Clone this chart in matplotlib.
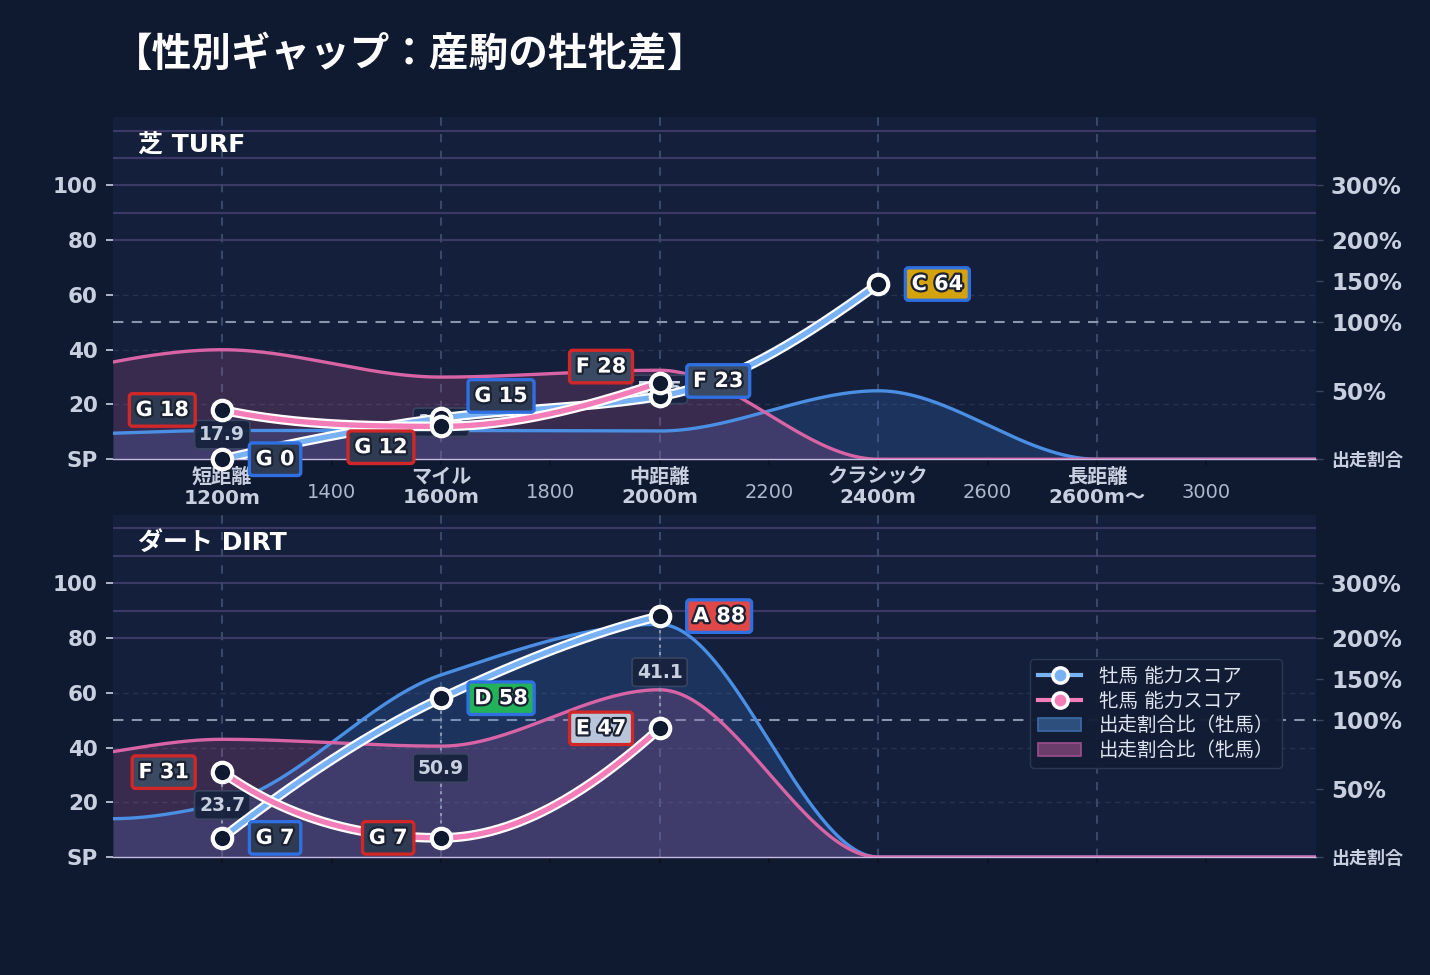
import numpy as np
import matplotlib
matplotlib.use('Agg')
import matplotlib.pyplot as plt
from matplotlib.lines import Line2D
from matplotlib.patches import Patch
import matplotlib.patheffects as pe

plt.rcParams['font.family'] = ['DejaVu Sans', 'Noto Sans CJK JP']

# ---------------- data ----------------
categories = ['短距離', 'マイル', '中距離', 'クラシック', '長距離']
category_dist = [1200, 1600, 2000, 2400, 2800]
category_dist_label = ['1200m', '1600m', '2000m', '2400m', '2600m〜']
minor_dist = [1400, 1800, 2200, 2600, 3000]

# starter share ratio (%) along the distance axis
ratio_dist = [1000, 1200, 1600, 2000, 2400, 2800, 3200]
turf_male_ratio = [19, 21, 21, 20.6, 50, 0, 0]
turf_female_ratio = [71, 80, 60, 65, 0, 0, 0]
dirt_male_ratio = [28, 39, 155, 225, 0, 0, 0]
dirt_female_ratio = [77, 86, 81, 137, 0, 0, 0]

# ability scores
turf_male_dist = [1200, 1600, 2000, 2400]
turf_male_score = [0, 15, 23, 64]
turf_male_grade = ['G', 'G', 'F', 'C']
turf_female_dist = [1200, 1600, 2000]
turf_female_score = [18, 12, 28]
turf_female_grade = ['G', 'G', 'F']
turf_gap_label = ['17.9', '31.9', '53.5']

dirt_male_dist = [1200, 1600, 2000]
dirt_male_score = [7, 58, 88]
dirt_male_grade = ['G', 'D', 'A']
dirt_female_dist = [1200, 1600, 2000]
dirt_female_score = [31, 7, 47]
dirt_female_grade = ['F', 'G', 'E']
dirt_gap_label = ['23.7', '50.9', '41.1']

score_ticks = [0, 20, 40, 60, 80, 100]
score_tick_labels = ['SP', '20', '40', '60', '80', '100']
ratio_tick_pct = [0, 50, 100, 150, 200, 300]
ratio_tick_labels = ['出走割合', '50%', '100%', '150%', '200%', '300%']
ratio_tick_pos = [0, 25, 50, 65, 80, 100]   # piecewise ratio scale on score axis

# ---------------- style ----------------
FIG_BG = '#0f1930'
AX_BG = '#131f3b'
TXT = '#c8d0e0'
MALE_SCORE = '#78b2f5'
FEMALE_SCORE = '#f27db9'
MALE_RATIO = '#4a8fe3'
FEMALE_RATIO = '#d864a6'
GRADE_FACE = {'A': '#e04848', 'B': '#f08a30', 'C': '#d4a20a', 'D': '#22b35a',
              'E': '#b8c4d8', 'F': '#3b4a63', 'G': '#2e3b52'}
MALE_EDGE = '#2f6fe0'
FEMALE_EDGE = '#d02828'


def pchip(x, y, xs):
    x = np.asarray(x, float); y = np.asarray(y, float)
    h = np.diff(x); d = np.diff(y) / h
    n = len(x)
    m = np.zeros(n)
    for k in range(1, n - 1):
        if d[k - 1] * d[k] > 0:
            w1 = 2 * h[k] + h[k - 1]; w2 = h[k] + 2 * h[k - 1]
            m[k] = (w1 + w2) / (w1 / d[k - 1] + w2 / d[k])
    def endpoint(h0, h1, d0, d1):
        mm = ((2 * h0 + h1) * d0 - h0 * d1) / (h0 + h1)
        if np.sign(mm) != np.sign(d0):
            mm = 0.0
        elif np.sign(d0) != np.sign(d1) and abs(mm) > abs(3 * d0):
            mm = 3 * d0
        return mm
    if n > 2:
        m[0] = endpoint(h[0], h[1], d[0], d[1])
        m[-1] = endpoint(h[-1], h[-2], d[-1], d[-2])
    else:
        m[:] = d[0]
    xs = np.asarray(xs, float)
    idx = np.clip(np.searchsorted(x, xs) - 1, 0, n - 2)
    t = (xs - x[idx]) / h[idx]
    h00 = 2 * t**3 - 3 * t**2 + 1; h10 = t**3 - 2 * t**2 + t
    h01 = -2 * t**3 + 3 * t**2; h11 = t**3 - t**2
    return h00 * y[idx] + h10 * h[idx] * m[idx] + h01 * y[idx + 1] + h11 * h[idx] * m[idx + 1]


def ratio_to_pos(p):
    return np.interp(p, ratio_tick_pct, ratio_tick_pos)


def draw_panel(ax, title, male_ratio, female_ratio, mdist, mscore, mgrade,
               fdist, fscore, fgrade, gap_labels, mnudge, fnudge, show_xlabels):
    ax.set_facecolor(AX_BG)
    ax.set_xlim(1000, 3200)
    ax.set_ylim(0, 125)
    for s in ['top', 'left', 'right']:
        ax.spines[s].set_visible(False)
    ax.spines['bottom'].set_color('#c4bce0')
    ax.spines['bottom'].set_linewidth(1.0)

    # grid
    for xv in category_dist:
        ax.axvline(xv, color='#3a4868', lw=1.5, ls=(0, (4, 4)), zorder=0.5)
    for yv in [20, 40, 60]:
        ax.axhline(yv, color='#27324d', lw=1.0, ls=(0, (4, 3)), zorder=0.4)
    for yv in [80, 90, 100, 110, 120]:
        ax.axhline(yv, color='#3b3a66', lw=1.6, zorder=0.4)
    ax.axhline(50, color='#8a94aa', lw=1.5, ls=(0, (5, 4)), zorder=0.6)

    # ratio fills
    xs = np.linspace(1000, 3200, 600)
    mr = np.maximum(pchip(ratio_dist, ratio_to_pos(male_ratio), xs), 0)
    fr = np.maximum(pchip(ratio_dist, ratio_to_pos(female_ratio), xs), 0)
    ax.fill_between(xs, 0, mr, color='#3d7bd9', alpha=0.22, lw=0, zorder=1)
    ax.fill_between(xs, 0, fr, color='#d0609f', alpha=0.20, lw=0, zorder=1.1)
    ax.plot(xs, mr, color=MALE_RATIO, lw=2.4, zorder=2)
    ax.plot(xs, fr, color=FEMALE_RATIO, lw=2.4, zorder=2.1)

    # gap connectors and gap labels
    for i, lab in enumerate(gap_labels):
        xv = fdist[i]
        a, b = mscore[i], fscore[i]
        ax.plot([xv, xv], [min(a, b), max(a, b)], color='#8a96b0', lw=1.5,
                ls=(0, (1.5, 2)), zorder=2.5)
        ax.text(xv, (a + b) / 2, lab, ha='center', va='center', fontsize=13.5,
                fontweight='bold', color=TXT, zorder=3,
                bbox=dict(boxstyle='round,pad=0.25,rounding_size=0.2',
                          fc='#18233f', ec='#3a4662', lw=1.2, alpha=0.95))

    # score lines
    for dist, score, col, z in [(mdist, mscore, MALE_SCORE, 4), (fdist, fscore, FEMALE_SCORE, 4.2)]:
        xx = np.linspace(dist[0], dist[-1], 300)
        yy = pchip(dist, score, xx)
        ax.plot(xx, yy, color='white', lw=7, solid_capstyle='round', zorder=z)
        ax.plot(xx, yy, color=col, lw=3.8, solid_capstyle='round', zorder=z + 0.05)
        ax.plot(dist, score, ls='none', marker='o', ms=14, mfc=FIG_BG, mec='white',
                mew=3, zorder=z + 0.5, clip_on=False)

    # grade labels
    for dist, score, grade, nudge, edge, sgn in [
            (mdist, mscore, mgrade, mnudge, MALE_EDGE, 1),
            (fdist, fscore, fgrade, fnudge, FEMALE_EDGE, -1)]:
        for xv, sv, g, dy in zip(dist, score, grade, nudge):
            ax.annotate(f'{g} {sv}', (xv, sv), xytext=(sgn * 24, dy),
                        textcoords='offset points', ha='left' if sgn > 0 else 'right',
                        va='center', fontsize=15, fontweight='bold', color='white',
                        zorder=6, annotation_clip=False,
                        path_effects=[pe.withStroke(linewidth=3.2, foreground='#1b2233')],
                        bbox=dict(boxstyle='round,pad=0.3,rounding_size=0.15',
                                  fc=GRADE_FACE[g], ec=edge, lw=2.4))

    # axes ticks
    ax.set_yticks(score_ticks, score_tick_labels)
    ax.tick_params(axis='y', colors=TXT, labelsize=15.5, length=5, width=1.2, pad=6)
    for t in ax.get_yticklabels():
        t.set_fontweight('bold')
    ax.set_xticks(category_dist)
    ax.set_xticks(minor_dist, minor=True)
    ax.tick_params(axis='x', which='both', length=4, color='#0a1020', width=1.2)
    if show_xlabels:
        ax.set_xticklabels([f'{c}\n{d}' for c, d in zip(categories, category_dist_label)],
                           fontsize=14.5, fontweight='bold', color=TXT, linespacing=1.12)
        ax.set_xticklabels([str(v) for v in minor_dist], minor=True, fontsize=14,
                           color='#aeb8cc')
        ax.tick_params(axis='x', which='major', pad=2)
        ax.tick_params(axis='x', which='minor', pad=13)
    else:
        ax.set_xticklabels([])
        ax.set_xticklabels([], minor=True)

    ax2 = ax.twinx()
    ax2.set_ylim(ax.get_ylim())
    for s in ax2.spines.values():
        s.set_visible(False)
    ax2.set_yticks(ratio_tick_pos, ratio_tick_labels)
    ax2.tick_params(axis='y', colors=TXT, length=5, width=1, pad=6, color='#3a4560')
    for t in ax2.get_yticklabels():
        t.set_fontweight('bold')
        t.set_color(TXT)
        t.set_fontsize(13 if t.get_text() == '出走割合' else 16.5)

    ax.text(0.021, 0.918, title, transform=ax.transAxes, fontsize=18,
            fontweight='bold', color='white', va='center', ha='left', zorder=7)


fig = plt.figure(figsize=(14.3, 9.75), dpi=100, facecolor=FIG_BG)
ax_top = fig.add_axes([0.079, 0.529, 0.841, 0.351])
ax_bot = fig.add_axes([0.079, 0.121, 0.841, 0.351])

draw_panel(ax_top, '芝 TURF', turf_male_ratio, turf_female_ratio,
           turf_male_dist, turf_male_score, turf_male_grade,
           turf_female_dist, turf_female_score, turf_female_grade,
           turf_gap_label, [0, 16, 11, 0], [0, -15, 11.5], True)
draw_panel(ax_bot, 'ダート DIRT', dirt_male_ratio, dirt_female_ratio,
           dirt_male_dist, dirt_male_score, dirt_male_grade,
           dirt_female_dist, dirt_female_score, dirt_female_grade,
           dirt_gap_label, [0, 0, 0], [0, 0, 0], False)

handles = [
    Line2D([0], [0], color=MALE_SCORE, lw=3, marker='o', ms=11, mfc=MALE_SCORE, mec='white', mew=2.5),
    Line2D([0], [0], color=FEMALE_SCORE, lw=3, marker='o', ms=11, mfc=FEMALE_SCORE, mec='white', mew=2.5),
    Patch(facecolor='#2c4f7e', edgecolor='#3e6aa8', lw=1.2),
    Patch(facecolor='#6b3d6a', edgecolor='#9a4f8c', lw=1.2),
]
labels = ['牡馬 能力スコア', '牝馬 能力スコア', '出走割合比（牡馬）', '出走割合比（牝馬）']
leg = ax_bot.legend(handles, labels, loc='upper right', bbox_to_anchor=(0.980, 0.607),
                    fontsize=14, frameon=True, facecolor='#121c35', edgecolor='#2e3952',
                    framealpha=0.95, labelcolor='#e0e6f0', handlelength=2.2,
                    borderpad=0.4, labelspacing=0.3, handletextpad=0.9)
leg.set_zorder(10)

fig.text(0.079, 0.944, '【性別ギャップ：産駒の牡牝差】', fontsize=28.5, fontweight='bold',
         color='white', va='center', ha='left', family=['Noto Sans CJK JP'])

fig.savefig('out.png', dpi=100, facecolor=FIG_BG)
